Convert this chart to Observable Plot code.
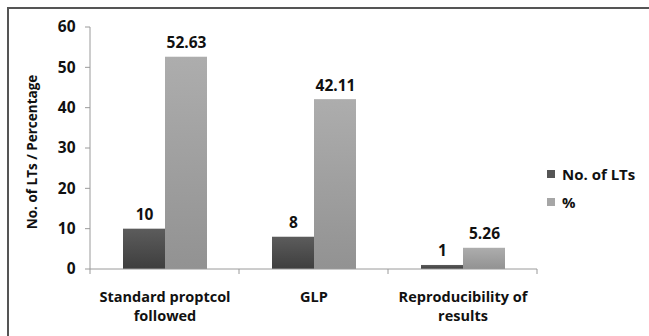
<!DOCTYPE html>
<html>
<head>
<meta charset="utf-8">
<script src="https://cdn.jsdelivr.net/npm/d3@7"></script>
<script src="https://cdn.jsdelivr.net/npm/@observablehq/plot@0.6"></script>
<style>
  html, body { margin: 0; padding: 0; background: #fff; }
  #wrap { position: relative; width: 649px; height: 336px; overflow: hidden; background: #fff; }
  #frame { position: absolute; left: 7px; top: 7px; width: 700px; height: 400px; border-left: 2px solid #555; border-top: 2px solid #555; box-sizing: border-box; }
  #chart { position: absolute; left: 0; top: 0; }
  #legend { position: absolute; left: 547px; top: 160px; font: bold 15px "Open Sans", Lato, sans-serif; color: #111; }
  #legend div { height: 28px; line-height: 28px; display: flex; align-items: center; }
  #legend span.sw { display: inline-block; width: 8px; height: 8px; margin-right: 7px; }
</style>
</head>
<body>
<div id="wrap">
  <div id="frame"></div>
  <div id="chart"></div>
  <div id="legend"></div>
</div>
<script>
const categories = ["Standard proptcol followed", "GLP", "Reproducibility of results"];
const categoryLabels = ["Standard proptcol\nfollowed", "GLP", "Reproducibility of\nresults"];
const series = ["No. of LTs", "%"];
const countValues = [10, 8, 1];
const percentValues = [52.63, 42.11, 5.26];
const valueLabels = [["10", "52.63"], ["8", "42.11"], ["1", "5.26"]];
const yTicks = [0, 10, 20, 30, 40, 50, 60];
const yTitle = "No. of LTs / Percentage";
const seriesColors = ["#555555", "#a6a6a6"];

const data = [];
categories.forEach((c, i) => {
  data.push({category: c, series: series[0], value: countValues[i], label: valueLabels[i][0]});
  data.push({category: c, series: series[1], value: percentValues[i], label: valueLabels[i][1]});
});

const fontFamily = '"Open Sans", Lato, sans-serif';

const plot = Plot.plot({
  width: 649,
  height: 336,
  marginLeft: 89,
  marginRight: 112,
  marginTop: 27,
  marginBottom: 67,
  style: {fontFamily, fontSize: "14px", fontWeight: "bold", color: "#111", background: "transparent"},
  fx: {domain: categories, padding: 0, label: null},
  x: {domain: series, paddingInner: 0, paddingOuter: 0.75, axis: null},
  y: {domain: [0, 60], label: null},
  marks: [
    Plot.axisY({ticks: yTicks, tickSize: 0, tickPadding: 15, fontSize: 15.5, fontWeight: "bold", fill: "#111", label: null}),
    Plot.axisFx({anchor: "bottom", tickSize: 0, tickPadding: 19, fontSize: 14.5, fontWeight: "bold", fill: "#111", lineHeight: 1.3, label: null,
                 tickFormat: d => categoryLabels[categories.indexOf(d)]}),
    Plot.barY(data, {fx: "category", x: "series", y: "value", fill: d => d.series === series[0] ? "url(#gDark)" : "url(#gLight)"}),
    Plot.text(data, {fx: "category", x: "series", y: "value", text: "label", dy: -14, fontSize: 15.5, fontWeight: "bold", fill: "#111"})
  ]
});
document.getElementById("chart").appendChild(plot);

const svg = d3.select(plot.tagName.toLowerCase() === "svg" ? plot : plot.querySelector("svg"));
const defs = svg.append("defs");
function grad(id, top, bottom) {
  const g = defs.append("linearGradient").attr("id", id).attr("x1", 0).attr("y1", 0).attr("x2", 0).attr("y2", 1);
  g.append("stop").attr("offset", "0%").attr("stop-color", top);
  g.append("stop").attr("offset", "100%").attr("stop-color", bottom);
}
grad("gDark", "#5c5c5c", "#3e3e3e");
grad("gLight", "#adadad", "#929292");

// axis lines and boundary ticks from the library's scales
const fx = plot.scale("fx");
const y = plot.scale("y");
const bw = fx.bandwidth;
const x0 = fx.apply(categories[0]);
const x1 = fx.apply(categories[categories.length - 1]) + bw;
const yBase = y.apply(0);
const yTop = y.apply(60);
const g = svg.append("g").attr("stroke", "#9a9a9a").attr("stroke-width", 1);
g.append("line").attr("x1", x0).attr("x2", x0).attr("y1", yTop).attr("y2", yBase);
g.append("line").attr("x1", x0).attr("x2", x1).attr("y1", yBase).attr("y2", yBase);
yTicks.forEach(t => g.append("line").attr("x1", x0 - 5).attr("x2", x0).attr("y1", y.apply(t)).attr("y2", y.apply(t)));
categories.forEach(c => {
  const xs = fx.apply(c);
  g.append("line").attr("x1", xs).attr("x2", xs).attr("y1", yBase).attr("y2", yBase + 5);
});
g.append("line").attr("x1", x1).attr("x2", x1).attr("y1", yBase).attr("y2", yBase + 5);

// y title
svg.append("text")
  .attr("transform", `translate(33,${(yTop + yBase) / 2 + 4}) rotate(-90)`)
  .attr("text-anchor", "middle").attr("dominant-baseline", "middle")
  .attr("font-family", fontFamily).attr("font-weight", "bold").attr("font-size", 13.5).attr("fill", "#111")
  .text(yTitle);

// legend
const legend = d3.select("#legend");
series.forEach((s, i) => {
  const row = legend.append("div");
  row.append("span").attr("class", "sw").style("background", seriesColors[i]);
  row.append("span").text(s);
});
</script>
</body>
</html>
